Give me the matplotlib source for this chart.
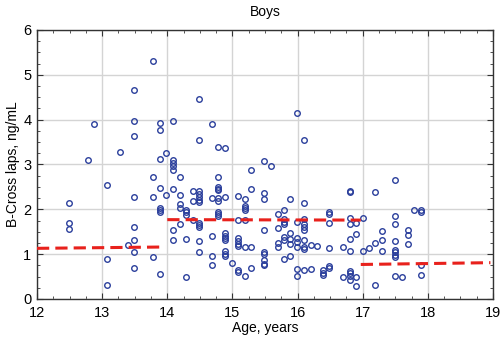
import matplotlib.pyplot as plt
from matplotlib.ticker import MultipleLocator

plt.rcParams['font.family'] = ['Liberation Sans', 'DejaVu Sans']

# scatter data: age (years) -> B-Cross laps (ng/mL)
columns = {
    12.49: [2.13, 1.70, 1.57],
    12.79: [3.10],
    12.88: [3.90],
    13.08: [2.54, 0.89, 0.31],
    13.27: [3.27],
    13.39: [1.21],
    13.49: [4.67, 3.96, 3.64, 2.27, 1.61, 1.32, 1.04, 0.70],
    13.78: [5.31, 2.71, 2.27, 0.93],
    13.89: [3.92, 3.76, 3.13, 2.47, 2.04, 1.99, 1.95, 0.55],
    13.98: [3.26, 2.33],
    14.09: [3.97, 3.11, 3.04, 2.96, 2.87, 2.45, 1.53, 1.32],
    14.19: [2.73, 2.33, 2.12, 2.03, 1.67],
    14.29: [1.98, 1.93, 1.87, 1.33, 0.50],
    14.39: [2.41, 2.19, 1.77],
    14.48: [4.46, 3.55, 2.41, 2.34, 2.27, 2.21, 2.16, 1.70, 1.64, 1.61, 1.30, 1.04],
    14.68: [3.91, 2.25, 1.41, 0.97, 0.76],
    14.78: [3.39, 2.71, 2.50, 2.45, 2.42, 2.25, 2.19, 1.94, 1.90, 1.85],
    14.89: [3.37, 2.27, 1.47, 1.41, 1.36, 1.31, 1.08, 1.01, 0.96],
    14.99: [0.81],
    15.08: [2.30, 1.76, 1.36, 1.30, 1.22, 1.18, 0.64, 0.60],
    15.19: [2.23, 2.08, 2.02, 1.98, 1.76, 1.16, 0.51],
    15.28: [2.87, 2.46, 1.16, 0.69],
    15.49: [3.08, 2.37, 2.24, 1.53, 1.05, 1.01, 0.87, 0.79, 0.76],
    15.59: [2.97],
    15.70: [1.90, 1.59, 1.25, 1.16],
    15.79: [1.99, 1.79, 1.72, 1.68, 1.38, 1.31, 0.90],
    15.89: [2.24, 1.47, 1.34, 1.22, 0.96],
    15.99: [4.14, 1.72, 1.35, 1.27, 1.16, 0.68, 0.51],
    16.10: [3.54, 2.14, 1.79, 1.68, 1.61, 1.53, 1.31, 1.16, 1.11, 0.64],
    16.20: [1.20, 0.67],
    16.30: [1.18],
    16.39: [0.64, 0.58, 0.53],
    16.49: [1.94, 1.90, 1.70, 1.13, 0.73, 0.70],
    16.70: [1.16, 0.50],
    16.80: [2.41, 2.38, 1.81, 1.68, 1.33, 1.07, 0.62, 0.57, 0.52, 0.42],
    16.90: [1.70, 1.46, 0.50, 0.30],
    17.00: [1.81, 1.07],
    17.10: [1.13],
    17.19: [2.38, 1.25, 0.31],
    17.29: [1.51, 1.31, 1.07],
    17.50: [2.66, 1.85, 1.68, 1.30, 1.09, 1.04, 0.99, 0.93, 0.51],
    17.60: [0.50],
    17.69: [1.53, 1.42, 1.22],
    17.79: [1.98],
    17.89: [1.98, 1.93, 0.76, 0.53],
}
age = [a for a, vals in columns.items() for _ in vals]
bcross = [v for vals in columns.values() for v in vals]

# group mean segments (red dashed)
seg_x = [(12.0, 13.97), (14.0, 16.97), (16.97, 18.96)]
seg_y = [(1.13, 1.16), (1.77, 1.76), (0.77, 0.81)]

fig = plt.figure(figsize=(5.02, 3.40), dpi=100)
ax = fig.add_axes([0.0737, 0.1206, 0.9084, 0.7912])

ax.grid(True, color='#d4d4d4', linewidth=1)
ax.set_axisbelow(True)

ax.plot(age, bcross, linestyle='none', marker='o', markersize=4,
        markerfacecolor='none', markeredgecolor='#2b3f9c', markeredgewidth=1, zorder=3)

for xs, ys in zip(seg_x, seg_y):
    ax.plot(xs, ys, color='#e8211c', linewidth=2.2, dashes=(4, 2), zorder=4)

ax.set_xlim(12, 19)
ax.set_ylim(0, 6)
ax.xaxis.set_major_locator(MultipleLocator(1))
ax.xaxis.set_minor_locator(MultipleLocator(0.25))
ax.yaxis.set_major_locator(MultipleLocator(1))
ax.yaxis.set_minor_locator(MultipleLocator(0.25))
ax.tick_params(which='both', direction='in', top=True, right=True, colors='#333333',
               labelcolor='black', labelsize=10.5)
ax.tick_params(which='major', length=4)
ax.tick_params(which='minor', length=2)
ax.tick_params(axis='x', which='major', pad=5)
ax.tick_params(axis='y', which='major', pad=4)
for s in ax.spines.values():
    s.set_color('#333333')
    s.set_linewidth(1)

ax.set_title('Boys', fontsize=10, pad=10)
ax.set_xlabel('Age, years', fontsize=10, labelpad=1)
ax.set_ylabel('B-Cross laps, ng/mL', fontsize=10, labelpad=2)

fig.savefig('out.png', dpi=100)
